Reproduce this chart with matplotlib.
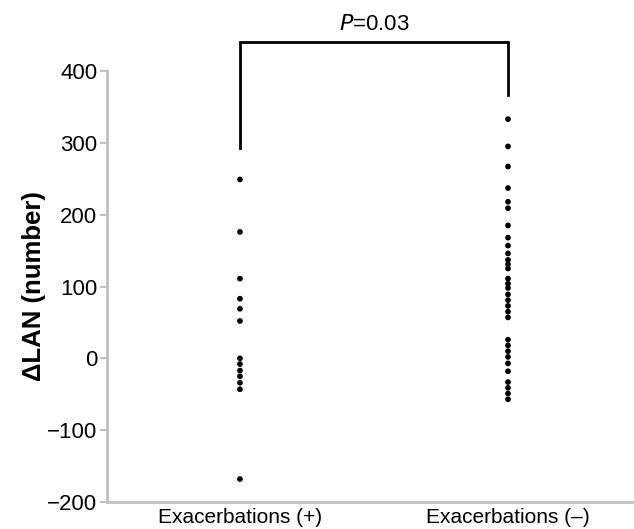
import numpy as np
import matplotlib
matplotlib.use('Agg')
import matplotlib.pyplot as plt

plt.rcParams['font.family'] = ['Liberation Sans', 'DejaVu Sans']

groups = ['Exacerbations (+)', 'Exacerbations (\u2013)']
exac_pos = [249, 176, 111, 83, 69, 52, 0, -8, -17, -25, -34, -43, -168]
exac_neg = [333, 295, 267, 237, 218, 209, 185, 168, 157, 146, 137, 131, 125,
            111, 104, 98, 89, 81, 73, 65, 57, 26, 18, 10, 2, -7, -18,
            -33, -41, -49, -57]
yticks = [-200, -100, 0, 100, 200, 300, 400]
p_text = '$P$=0.03'
bracket_top = 440
bracket_left = 293
bracket_right = 367

fig = plt.figure(figsize=(6.34, 5.29), dpi=100)
ax = fig.add_axes([0.1688, 0.051, 0.8282, 0.8148])

for i, vals in enumerate([exac_pos, exac_neg]):
    ax.scatter(np.full(len(vals), i + 1), vals, s=17, color='black',
               edgecolors='none', zorder=3)

ax.set_xlim(0.504, 2.463)
ax.set_ylim(-200, 400)
ax.set_yticks(yticks)
ax.set_xticks([1, 2])
ax.set_xticklabels(groups, fontsize=15)
ax.tick_params(axis='x', length=0, pad=4)
ax.tick_params(axis='y', length=5, width=1.5, color='#c0c0c0',
               labelsize=16, pad=2)

for side in ['top', 'right']:
    ax.spines[side].set_visible(False)
for side in ['left', 'bottom']:
    ax.spines[side].set_color('#c0c0c0')
    ax.spines[side].set_linewidth(2)

ax.set_ylabel('\u0394LAN (number)', fontsize=18.5, fontweight='bold', va='center')
ax.yaxis.set_label_coords(-0.14, 0.5)

# significance bracket
ax.plot([1, 1, 2, 2], [bracket_left, bracket_top, bracket_top, bracket_right],
        color='black', lw=2, clip_on=False, solid_joinstyle='miter')
ax.text(1.5, bracket_top + 10, p_text, ha='center', va='bottom', fontsize=16)

fig.savefig('out.png', dpi=100)
